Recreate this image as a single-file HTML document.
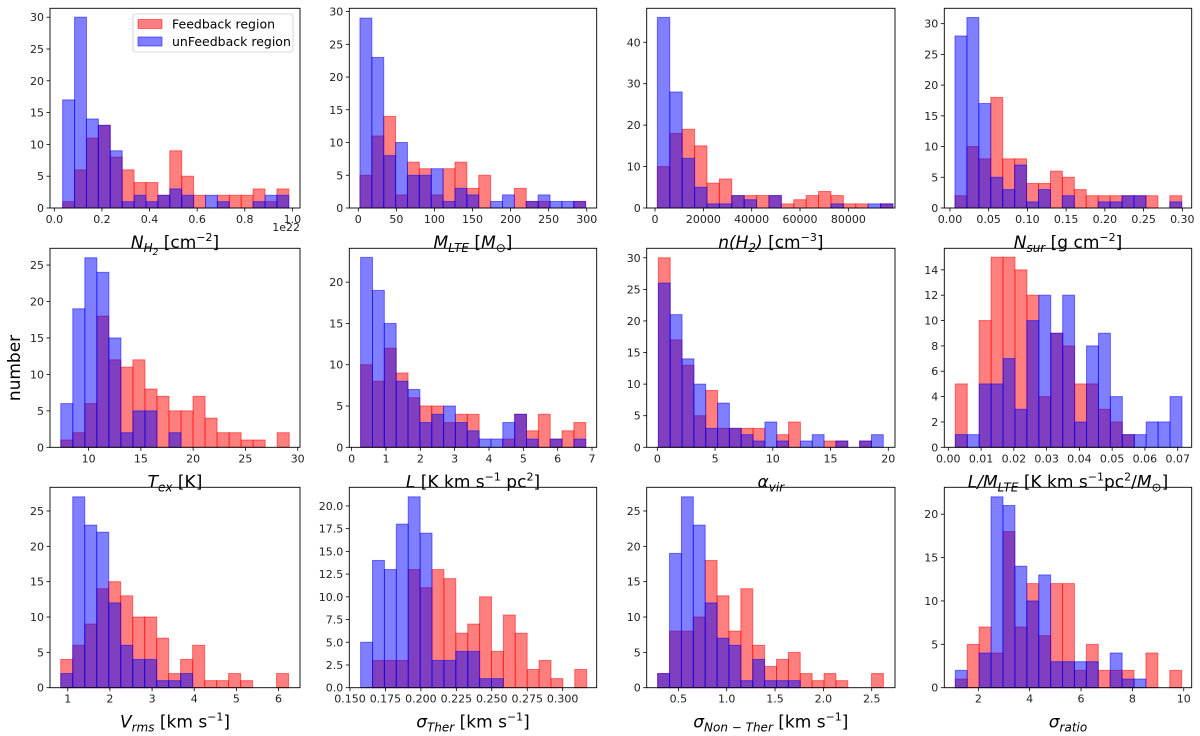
<!DOCTYPE html>
<html><head><meta charset="utf-8">
<style>
html,body{margin:0;padding:0;background:#fff;}
svg{display:block;font-family:"DejaVu Sans","Liberation Sans",sans-serif;}
</style></head>
<body>
<svg id="fig" width="1200" height="736" viewBox="0 0 1200 736"></svg>
<script>
// ---- data: counts per bin (Feedback = red, unFeedback = blue) ----
const nh2Feedback   = [1,6,11,13,8,6,4,4,2,9,5,2,0,2,2,2,3,1,3];
const nh2Unfeedback = [17,30,14,13,9,1,2,1,2,3,2,0,2,1,0,0,1,2,2];
const mlteFeedback   = [5,11,14,2,7,6,2,6,7,3,5,0,0,3,1,1,0,0,1];
const mlteUnfeedback = [29,23,8,10,5,5,6,1,3,2,0,1,2,0,1,2,1,1,1];
const nFeedback   = [10,18,19,15,6,7,3,3,3,3,1,2,3,4,3,1,1,0,1];
const nUnfeedback = [46,28,12,5,1,1,3,2,0,3,0,0,0,0,1,0,0,1,1];
const nsurFeedback   = [2,10,8,18,8,8,4,4,6,5,3,2,2,2,2,2,2,0,2];
const nsurUnfeedback = [28,31,17,5,3,7,1,3,0,2,0,0,1,1,2,2,0,0,1];
const texFeedback   = [1,2,6,18,12,11,12,8,7,5,5,7,4,2,2,1,1,0,2];
const texUnfeedback = [6,19,26,24,15,2,5,5,0,2,0,0,0,0,0,0,0,0,0];
const lumFeedback   = [10,8,12,9,6,5,5,3,4,4,0,0,1,4,2,4,1,2,3];
const lumUnfeedback = [23,19,15,8,7,3,4,5,3,2,1,1,3,4,1,0,1,0,1];
const avirFeedback   = [30,17,13,5,9,3,3,3,3,0,2,4,0,0,1,1,0,1,0];
const avirUnfeedback = [26,21,14,10,3,7,3,2,1,4,1,0,1,2,0,1,0,1,2];
const lmFeedback   = [5,0,10,15,15,14,12,4,9,8,5,5,3,2,1,0,0,0,0];
const lmUnfeedback = [1,1,5,5,7,3,10,12,9,12,2,8,9,4,1,1,2,2,4];
const vrmsFeedback   = [4,6,9,14,15,13,10,10,7,2,4,6,1,1,2,1,0,0,2];
const vrmsUnfeedback = [2,27,23,22,12,6,4,4,1,1,2,0,0,0,0,0,0,0,0];
const sthFeedback   = [0,3,3,3,13,11,13,12,6,7,10,4,8,6,2,3,1,0,2];
const sthUnfeedback = [5,14,13,18,21,17,3,3,4,4,1,1,0,0,0,0,0,0,0];
const snthFeedback   = [2,8,8,10,18,13,8,14,6,3,4,5,2,1,2,1,0,0,2];
const snthUnfeedback = [2,19,27,23,12,7,6,1,4,1,1,1,0,0,0,0,0,0,0];
const ratioFeedback   = [1,5,7,4,18,7,12,6,12,12,2,5,2,2,2,0,4,0,2];
const ratioUnfeedback = [2,0,4,22,21,14,10,13,3,3,3,3,0,4,1,1,0,0,0];

// ---- bin definitions (first edge, width) ----
const binStart = [0.035, 2.19, 966, 0.00646, 7.34, 0.262, 0.09, 0.00214, 0.833, 0.1575, 0.286, 1.104];
const binWidth = [0.05, 15.6, 5131, 0.01541, 1.15, 0.345, 1.025, 0.00364, 0.2845, 0.00839, 0.1229, 0.464];

// ---- tick labels ----
const xTicks = [
  ["0.0","0.2","0.4","0.6","0.8","1.0"],
  ["0","50","100","150","200","250","300"],
  ["0","20000","40000","60000","80000"],
  ["0.00","0.05","0.10","0.15","0.20","0.25","0.30"],
  ["10","15","20","25","30"],
  ["0","1","2","3","4","5","6","7"],
  ["0","5","10","15","20"],
  ["0.00","0.01","0.02","0.03","0.04","0.05","0.06","0.07"],
  ["1","2","3","4","5","6"],
  ["0.150","0.175","0.200","0.225","0.250","0.275","0.300"],
  ["0.5","1.0","1.5","2.0","2.5"],
  ["2","4","6","8","10"]
];
const yTicks = [
  ["0","5","10","15","20","25","30"],
  ["0","5","10","15","20","25","30"],
  ["0","10","20","30","40"],
  ["0","5","10","15","20","25","30"],
  ["0","5","10","15","20","25"],
  ["0","5","10","15","20"],
  ["0","5","10","15","20","25","30"],
  ["0","2","4","6","8","10","12","14"],
  ["0","5","10","15","20","25"],
  ["0.0","2.5","5.0","7.5","10.0","12.5","15.0","17.5","20.0"],
  ["0","5","10","15","20","25"],
  ["0","5","10","15","20"]
];
const feedbackSeries = [nh2Feedback,mlteFeedback,nFeedback,nsurFeedback,texFeedback,lumFeedback,avirFeedback,lmFeedback,vrmsFeedback,sthFeedback,snthFeedback,ratioFeedback];
const unfeedbackSeries = [nh2Unfeedback,mlteUnfeedback,nUnfeedback,nsurUnfeedback,texUnfeedback,lumUnfeedback,avirUnfeedback,lmUnfeedback,vrmsUnfeedback,sthUnfeedback,snthUnfeedback,ratioUnfeedback];

// ---- layout (not data) ----
const colX = [[50,300],[349.3,596.7],[646.7,895],[944.3,1191.7]];
const rowY = [[8.3,208],[248.3,447.3],[487.3,687.7]];
const xLim = [[-0.0182,1.032],[-11.8,313.1],[-3448,99310],[-0.0073,0.3121],[6.31,30.22],[-0.068,7.136],[-0.92,20.58],[-0.00122,0.07427],[0.578,6.51],[0.1495,0.324],[0.1724,2.741],[0.675,10.31]];
const yMax = [31.4,30.5,48.2,32.5,27.3,24.1,31.5,15.7,28.35,22.05,28.35,23.1];
const panelNames = ["nh2","mlte","density","nsur","tex","luminosity","alpha-vir","l-over-m","vrms","sigma-ther","sigma-nonther","sigma-ratio"];
const N = ' font-style="normal"';
const xLabels = [
  'N<tspan font-size="12" dy="4">H</tspan><tspan font-size="9" dy="3">2</tspan><tspan dy="-7"'+N+'> [cm</tspan><tspan font-size="11" dy="-7"'+N+'>−2</tspan><tspan dy="7"'+N+'>]</tspan>',
  'M<tspan font-size="12" dy="4">LTE</tspan><tspan dy="-4"'+N+'> [</tspan>M<tspan font-size="12" dy="4"'+N+'>⊙</tspan><tspan dy="-4"'+N+'>]</tspan>',
  'n(H<tspan font-size="12" dy="4">2</tspan><tspan dy="-4">)</tspan><tspan'+N+'> [cm</tspan><tspan font-size="11" dy="-7"'+N+'>−3</tspan><tspan dy="7"'+N+'>]</tspan>',
  'N<tspan font-size="12" dy="4">sur</tspan><tspan dy="-4"'+N+'> [g cm</tspan><tspan font-size="11" dy="-7"'+N+'>−2</tspan><tspan dy="7"'+N+'>]</tspan>',
  'T<tspan font-size="12" dy="4">ex</tspan><tspan dy="-4"'+N+'> [K]</tspan>',
  'L<tspan'+N+'> [K km s</tspan><tspan font-size="11" dy="-7"'+N+'>−1</tspan><tspan dy="7"'+N+'> pc</tspan><tspan font-size="11" dy="-7"'+N+'>2</tspan><tspan dy="7"'+N+'>]</tspan>',
  'α<tspan font-size="12" dy="4">vir</tspan>',
  'L/M<tspan font-size="12" dy="4">LTE</tspan><tspan dy="-4"'+N+'> [K km s</tspan><tspan font-size="11" dy="-7"'+N+'>−1</tspan><tspan dy="7"'+N+'>pc</tspan><tspan font-size="11" dy="-7"'+N+'>2</tspan><tspan dy="7"'+N+'>/</tspan>M<tspan font-size="12" dy="4"'+N+'>⊙</tspan><tspan dy="-4"'+N+'>]</tspan>',
  'V<tspan font-size="12" dy="4">rms</tspan><tspan dy="-4"'+N+'> [km s</tspan><tspan font-size="11" dy="-7"'+N+'>−1</tspan><tspan dy="7"'+N+'>]</tspan>',
  'σ<tspan font-size="12" dy="4">Ther</tspan><tspan dy="-4"'+N+'> [km s</tspan><tspan font-size="11" dy="-7"'+N+'>−1</tspan><tspan dy="7"'+N+'>]</tspan>',
  'σ<tspan font-size="12" dy="4">Non − Ther</tspan><tspan dy="-4"'+N+'> [km s</tspan><tspan font-size="11" dy="-7"'+N+'>−1</tspan><tspan dy="7"'+N+'>]</tspan>',
  'σ<tspan font-size="12" dy="4">ratio</tspan>'
];

const NS = "http://www.w3.org/2000/svg";
const svg = document.getElementById("fig");
function mk(tag, attrs, parent){
  const e = document.createElementNS(NS, tag);
  for (const k in attrs) e.setAttribute(k, attrs[k]);
  (parent||svg).appendChild(e);
  return e;
}

for (let p = 0; p < 12; p++) {
  const c = p % 4, r = Math.floor(p / 4);
  const [L, R] = colX[c], [T, B] = rowY[r];
  const [x0, x1] = xLim[p];
  const xs = v => L + (v - x0) / (x1 - x0) * (R - L);
  const ys = v => B - v / yMax[p] * (B - T);
  const g = mk("g", {});
  
  

  const series = [[feedbackSeries[p], "rgba(255,0,0,0.5)", "feedback"], [unfeedbackSeries[p], "rgba(0,0,255,0.5)", "unfeedback"]];
  series.forEach(([vals, col, nm]) => {
    vals.forEach((v, i) => {
      if (v <= 0) return;
      const a = binStart[p] + i * binWidth[p], b = a + binWidth[p];
      const rect = mk("rect", {x: xs(a), y: ys(v), width: xs(b) - xs(a), height: ys(0) - ys(v), fill: col, stroke: col, "stroke-width": 1}, g);
      
      
    });
  });

  const frame = mk("rect", {x: L, y: T, width: R - L, height: B - T, fill: "none", stroke: "#000", "stroke-width": 0.9}, g);
  
  

  xTicks[p].forEach(t => {
    const X = xs(parseFloat(t));
    mk("line", {x1: X, x2: X, y1: B, y2: B + 3.5, stroke: "#000", "stroke-width": 0.8}, g);
    const tx = mk("text", {x: X, y: B + 15, "font-size": 11, "text-anchor": "middle", fill: "#222"}, g);
    tx.textContent = t;
    
    
  });
  yTicks[p].forEach(t => {
    const Y = ys(parseFloat(t));
    mk("line", {x1: L - 3.5, x2: L, y1: Y, y2: Y, stroke: "#000", "stroke-width": 0.8}, g);
    const ty = mk("text", {x: L - 6, y: Y + 4, "font-size": 11, "text-anchor": "end", fill: "#222"}, g);
    ty.textContent = t;
    
    
  });
  const xl = mk("text", {x: (L + R) / 2, y: B + 40, "font-size": 17, "text-anchor": "middle", "font-style": "italic", fill: "#000"}, g);
  xl.innerHTML = xLabels[p];
  
  
}

const off = mk("text", {x: 300, y: 231, "font-size": 11, "text-anchor": "end", fill: "#222"});
off.textContent = "1e22";



const yt = mk("text", {x: 0, y: 0, "font-size": 17, "text-anchor": "middle", transform: "translate(20,368) rotate(-90)", fill: "#000"});
yt.textContent = "number";



const lg = mk("g", {});


mk("rect", {x: 133, y: 14, width: 160, height: 38, rx: 2.5, fill: "rgba(255,255,255,0.8)", stroke: "#ccc", "stroke-width": 0.8}, lg);
const e1 = mk("rect", {x: 138, y: 19.5, width: 24, height: 9, fill: "rgba(255,0,0,0.5)", stroke: "rgba(255,0,0,0.5)"}, lg);


const t1 = mk("text", {x: 172, y: 28.5, "font-size": 12.5, fill: "#000"}, lg);
t1.textContent = "Feedback region";


const e2 = mk("rect", {x: 138, y: 37, width: 24, height: 9, fill: "rgba(0,0,255,0.5)", stroke: "rgba(0,0,255,0.5)"}, lg);


const t2 = mk("text", {x: 172, y: 46, "font-size": 12.5, fill: "#000"}, lg);
t2.textContent = "unFeedback region";


</script>
</body></html>
